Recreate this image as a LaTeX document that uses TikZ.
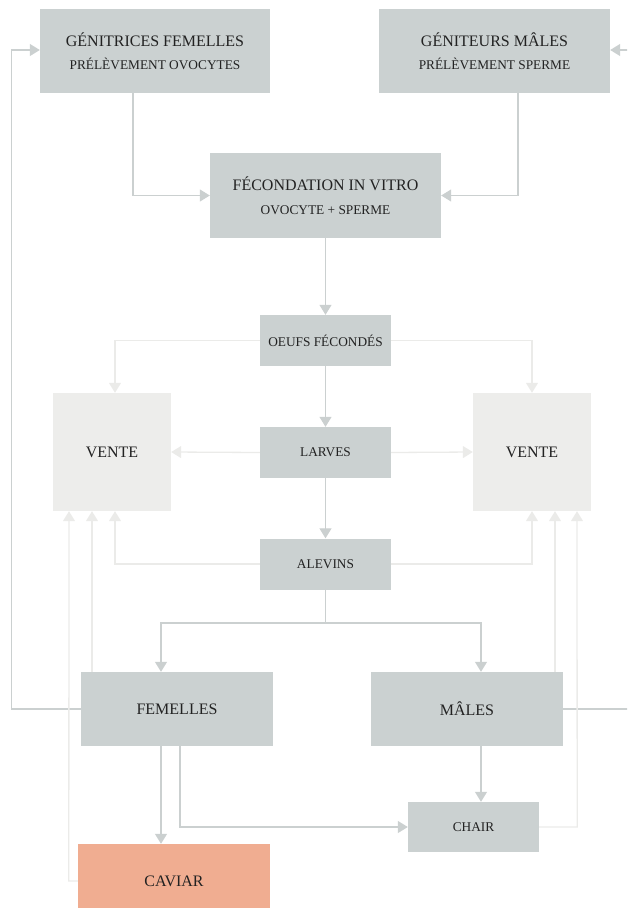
\documentclass[tikz,border=0pt]{standalone}
\usepackage{fontspec}
\setmainfont{Liberation Serif}
\usetikzlibrary{arrows.meta}
\definecolor{boxgray}{HTML}{CBD1D1}
\definecolor{ventegray}{HTML}{EDEDEB}
\definecolor{linegray}{HTML}{CBD0D0}
\definecolor{lightline}{HTML}{EBEBE9}
\definecolor{caviarc}{HTML}{F0AD91}
\definecolor{txt}{HTML}{222222}
\tikzset{
  box/.style={fill=boxgray, draw=none, text=txt, inner sep=0pt, align=center},
  vbox/.style={fill=ventegray, draw=none, text=txt, inner sep=0pt, align=center,
    minimum width=118pt, minimum height=118pt, font=\fontsize{16}{20}\selectfont},
  big/.style={font=\fontsize{16}{20}\selectfont},
  two/.style={font=\fontsize{16}{23.5}\selectfont},
  small/.style={font=\fontsize{13.33}{16}\selectfont},
  arr/.style={draw=linegray, line width=1.3pt, -{Triangle[width=12pt,length=10pt,fill=linegray]}},
  arrv/.style={draw=lightline, line width=1.3pt, -{Triangle[width=12pt,length=10pt,fill=lightline]}},
}
\newcommand{\subline}[1]{{\fontsize{13.33}{23.5}\selectfont #1}}
\begin{document}
\begin{tikzpicture}[x=1pt,y=-1pt]
\useasboundingbox (0,0) rectangle (627,908);
\clip (0,0) rectangle (627,908);
% nodes
\node[box, two, minimum width=230pt, minimum height=84pt] (gf) at (155,51)
  {GÉNITRICES FEMELLES\\ \subline{PRÉLÈVEMENT OVOCYTES}};
\node[box, two, minimum width=231pt, minimum height=84pt] (gm) at (494.5,51)
  {GÉNITEURS MÂLES\\ \subline{PRÉLÈVEMENT SPERME}};
\node[box, two, minimum width=231pt, minimum height=85pt] (fiv) at (325.5,195.5)
  {FÉCONDATION IN VITRO\\ \subline{OVOCYTE + SPERME}};
\node[box, small, minimum width=131pt, minimum height=51pt] (oeufs) at (325.5,340.5) {OEUFS FÉCONDÉS};
\node[box, small, minimum width=131pt, minimum height=51pt] (larves) at (325.5,452.5) {LARVES};
\node[box, small, minimum width=131pt, minimum height=51pt] (alevins) at (325.5,564) {ALEVINS};
\node[vbox] (venteL) at (112,452) {VENTE};
\node[vbox] (venteR) at (532,452) {VENTE};
\node[box, big, minimum width=192pt, minimum height=74pt] (fem) at (177,709) {FEMELLES};
\node[box, big, minimum width=192pt, minimum height=74pt] (mal) at (467,709) {MÂLES};
\node[box, small, minimum width=131pt, minimum height=50pt] (chair) at (473.5,827) {CHAIR};
\node[fill=caviarc, text=txt, inner sep=0pt, big, minimum width=192pt, minimum height=74pt] (caviar) at (174,881) {CAVIAR};
\coordinate (split) at (325.5,623);
% top connectors
\draw[arr] ([xshift=-22pt]gf.south) |- (fiv.west);
\draw[arr] ([xshift=23.5pt]gm.south) |- (fiv.east);
\draw[arr] (fem.west) -- ++(-69,0) |- ([yshift=1pt]gf.west);
\draw[arr] (mal.east) -- ++(65,0) |- ([yshift=1pt]gm.east);
% main chain
\draw[arr] (fiv.south) -- (oeufs.north);
\draw[arr] (oeufs.south) -- (larves.north);
\draw[arr] (larves.south) -- (alevins.north);
% sales
\draw[arrv] (oeufs.west) -| ([xshift=3pt]venteL.north);
\draw[arrv] (oeufs.east) -| (venteR.north);
\draw[arrv] (larves.west) -- (venteL.east);
\draw[arrv] (larves.east) -- (venteR.west);
\draw[arrv] (alevins.west) -| ([xshift=3pt]venteL.south);
\draw[arrv] (alevins.east) -| (venteR.south);
\draw[arrv] ([xshift=-85pt]fem.north) -- ([xshift=-85pt]fem.north |- venteL.south);
\draw[arrv] (caviar.west) -- ++(-9,0) -- ([xshift=-43pt]venteL.south);
\draw[arrv] ([xshift=88pt]mal.north) -- ([xshift=88pt]mal.north |- venteR.south);
\draw[arrv] (chair.east) -- ++(38,0) -- ([xshift=45pt]venteR.south);
% split
\draw[arr] (alevins.south) -- (split) -| ([xshift=-16pt]fem.north);
\draw[arr] (split) -| ([xshift=14pt]mal.north);
% bottom
\draw[arr] ([xshift=-16pt]fem.south) -- ([xshift=-16pt]fem.south |- caviar.north);
\draw[arr] ([xshift=3pt]fem.south) |- (chair.west);
\draw[arr] ([xshift=14pt]mal.south) -- ([xshift=14pt]mal.south |- chair.north);
\end{tikzpicture}
\end{document}
